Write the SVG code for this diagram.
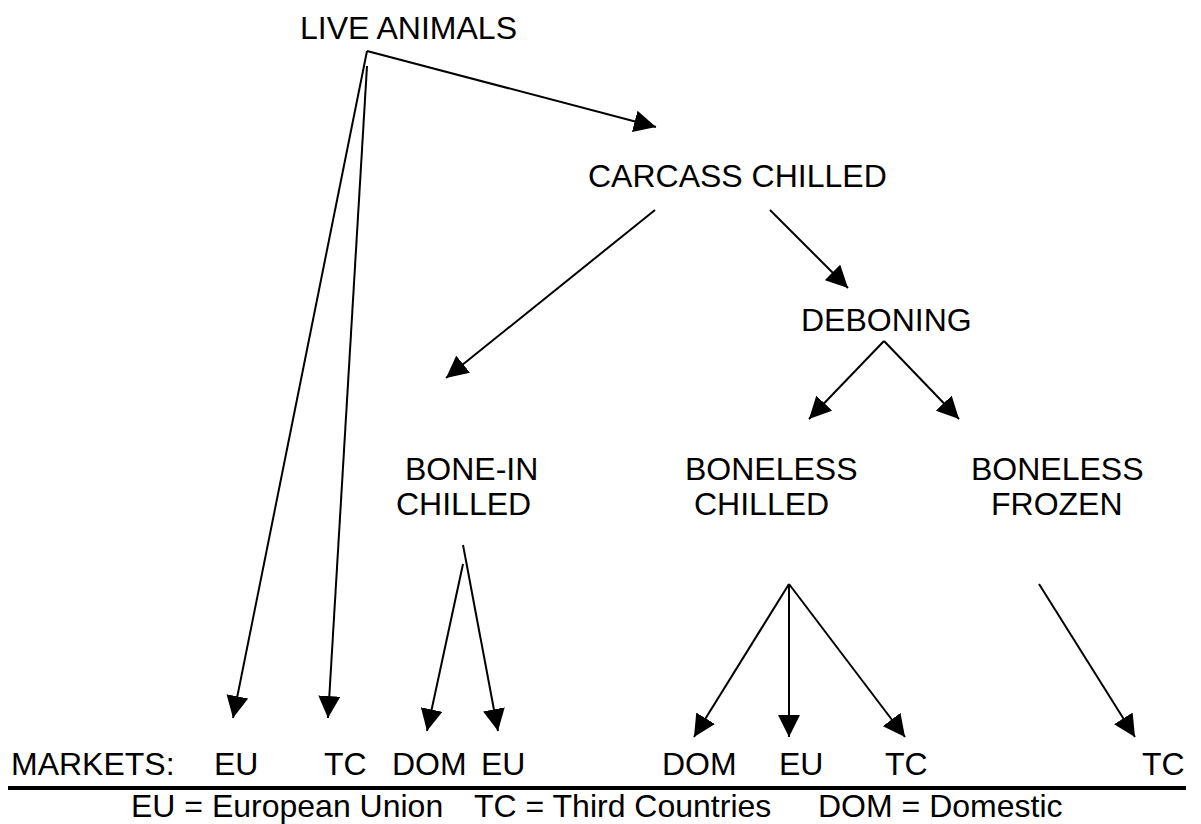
<svg xmlns="http://www.w3.org/2000/svg" width="1201" height="824" viewBox="0 0 1201 824">
<style>
text{font-family:"Liberation Sans",Arial,sans-serif;font-size:32px;fill:#000}
.c line{stroke:#000;stroke-width:2;fill:none;marker-end:url(#ah)}
</style>
<defs>
<marker id="ah" markerUnits="userSpaceOnUse" markerWidth="22" markerHeight="22" refX="22" refY="11" orient="auto" viewBox="0 0 22 22">
<path d="M0,0 L22,11 L0,22 Z" fill="#000"/>
</marker>
</defs>
<rect width="1201" height="824" fill="#fff"/>
<g id="live-animals"><text x="300" y="39">LIVE ANIMALS</text></g>
<g id="carcass-chilled"><text x="588" y="187">CARCASS CHILLED</text></g>
<g id="deboning"><text x="801" y="331">DEBONING</text></g>
<g id="bone-in-chilled"><text x="405" y="480">BONE-IN</text><text x="396" y="515">CHILLED</text></g>
<g id="boneless-chilled"><text x="685" y="480">BONELESS</text><text x="694" y="515">CHILLED</text></g>
<g id="boneless-frozen"><text x="971" y="480">BONELESS</text><text x="991" y="515">FROZEN</text></g>
<g id="markets">
<text x="11" y="775">MARKETS:</text>
<text x="214" y="775">EU</text>
<text x="324" y="775">TC</text>
<text x="392" y="775">DOM</text>
<text x="481" y="775">EU</text>
<text x="662" y="775">DOM</text>
<text x="779" y="775">EU</text>
<text x="885" y="775">TC</text>
<text x="1142" y="775">TC</text>
</g>
<g id="legend">
<line x1="8" y1="788" x2="1186" y2="788" stroke="#000" stroke-width="4"/>
<text x="131" y="817">EU = European Union</text>
<text x="474" y="817">TC = Third Countries</text>
<text x="818" y="817">DOM = Domestic</text>
</g>
<g class="c" id="connectors">
<line x1="367" y1="51" x2="656" y2="127"/>
<line x1="367" y1="51" x2="233" y2="718"/>
<line x1="367" y1="66" x2="328" y2="718"/>
<line x1="655" y1="210" x2="446" y2="378"/>
<line x1="770" y1="210" x2="848" y2="288"/>
<line x1="884" y1="341" x2="809" y2="419"/>
<line x1="884" y1="341" x2="959" y2="419"/>
<line x1="463" y1="564" x2="427" y2="731"/>
<line x1="463" y1="545" x2="498" y2="731"/>
<line x1="789" y1="584" x2="694" y2="737"/>
<line x1="789" y1="584" x2="789" y2="737"/>
<line x1="789" y1="584" x2="905" y2="737"/>
<line x1="1039" y1="584" x2="1135" y2="737"/>
</g>
</svg>
